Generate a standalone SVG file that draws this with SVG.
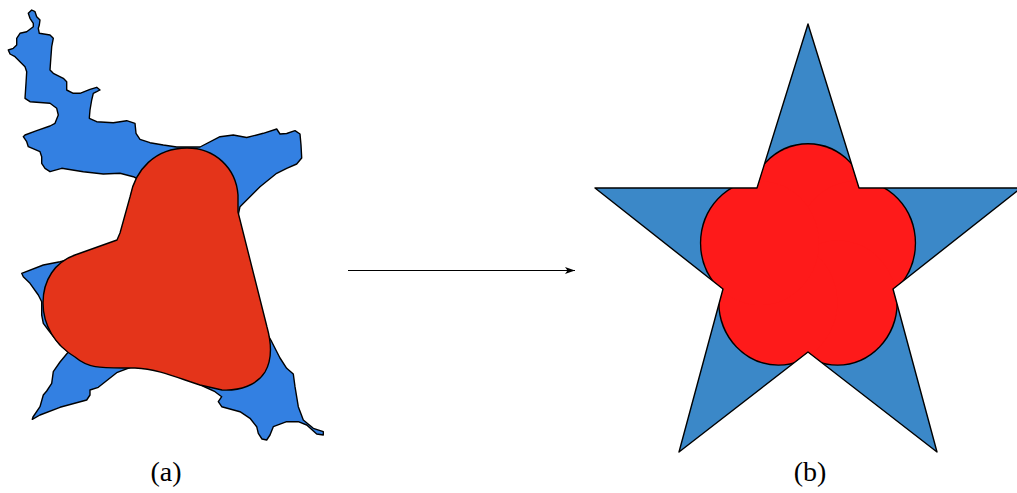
<svg xmlns="http://www.w3.org/2000/svg" width="1017" height="493" viewBox="0 0 1017 493">
<style>
.outline{stroke:#000;stroke-width:1.4;stroke-linejoin:round}
.blueA{fill:#3380e2}
.redA{fill:#e4341a}
.star{fill:#3b88c8}
.lbl{font-family:"Liberation Serif","DejaVu Serif",serif;font-size:28px;fill:#000;text-anchor:middle}
</style>
<defs>
<marker id="ah" markerWidth="11" markerHeight="7" refX="10" refY="3.5" orient="auto" markerUnits="userSpaceOnUse">
<path d="M0,0 L10,3.5 L0,7 L2.5,3.5 Z" fill="#000"/>
</marker>
<clipPath id="starClip">
<polygon points="808,24 859,188 1021,188 893,289 937,452 808,352 679,452 723,289 595,188 757,188"/>
</clipPath>
<g id="lobes">
<circle cx="0" cy="-53" r="62"/>
<circle cx="50.41" cy="-16.38" r="62"/>
<circle cx="31.15" cy="42.88" r="62"/>
<circle cx="-31.15" cy="42.88" r="62"/>
<circle cx="-50.41" cy="-16.38" r="62"/>
</g>
</defs>
<g id="fig-a">
<path class="blueA outline" d="M28.3,13.3 L31.7,10 L35,11.7 L36.7,16.7 L40,20 L39.3,25 L38.3,28.3 L39.3,33.3 L50,35 L53.3,38.3 L51.7,46.7 L50.7,60 L50,70 L53.3,73.3 L63.3,78.3 L66.7,81.7 L66.7,90 L73.3,93.3 L80,93.3 L90,89.3 L96.7,87.3 L100,90 L96.7,91.7 L93.3,93.3 L91.7,100 L90,110 L89.3,118.3 L96.7,121.7 L113.3,122.7 L126.7,120.7 L135,123.3 L136,133.3 L140,139.3 L150,142.7 L163.3,145 L176.7,147 L200,147 L220,136.7 L233.3,135 L246.7,137.5 L263.3,133.3 L276.7,129 L280,134 L286.7,133.5 L295,130.7 L300,134 L301,145 L301.7,158 L296.7,164 L286.7,168.3 L276.7,173.3 L260,186.7 L240,206.7 L235,230 L265,330 L271.7,341.7 L280,358 L286.7,368.3 L293.3,374 L295,386.7 L298.3,406.7 L303.3,420 L313.3,428.3 L323.3,431.7 L323.3,435 L316.7,434 L306.7,425 L298.3,421.7 L286.7,421.7 L273.3,426.7 L270,435 L266.7,440 L262,439 L258.3,433.3 L256.7,426.7 L250,418.3 L240,411.7 L221.7,406.7 L218.3,401.7 L221.7,396.7 L215,391.7 L205,387 L150,360 L116.7,372.7 L98.3,387.3 L90,390 L90,395 L86.7,400 L60,407.3 L40,415 L32.3,419.3 L33,417 L40,406.7 L43.3,395 L46.7,391 L51.7,383.3 L53.3,371.7 L60,362 L68.3,352 L60,345 L48.3,330 L43.3,323.3 L41.7,315 L41.7,301.7 L38.3,295 L30,283.3 L23.3,276.7 L21.7,273.3 L43.3,265 L60,261.7 L76,258 L118,246 L150,222 L152,186 L136,178 L133.3,176.7 L120,173.3 L103.3,174 L83.3,171.7 L61.7,168.3 L50,171.7 L45,168.3 L41.7,163.3 L41.7,156.7 L40,151.7 L28.3,146.7 L26.7,141.7 L23.3,136.7 L25,135 L36.7,130.7 L50,126 L55,123.3 L58.3,115 L56.7,108.3 L50,103.3 L30,101.7 L25,98.3 L26,83.3 L26.7,71.7 L25,66.7 L20,61.7 L15,56.7 L10,54 L8.3,50 L13.3,48.3 L16.7,45 L16.7,38.3 L20,33.3 L26.7,31.7 L33.3,26.7 L33.3,23.3 L30,18.3 Z"/>
<path class="redA outline" d="M120,233 L130,197 C135,170 155,148 187,148 C215,148 236,168 238,195 L238,212 L267,327 C272,345 272,360 265,372 C257,385 240,391 222,390 L200,385 C180,379 160,369 135,368 L123,368 C100,368 88,368 75,357 C55,345 43,325 43,303 C43,280 55,262 75,255 L117,240 Z"/>
</g>
<g id="fig-b">
<polygon class="star" points="808,24 859,188 1021,188 893,289 937,452 808,352 679,452 723,289 595,188 757,188"/>
<g clip-path="url(#starClip)">
<g transform="translate(808,259.5) scale(0.95,1)">
<use href="#lobes" fill="#000" stroke="#000" stroke-width="2.8"/>
<use href="#lobes" fill="#fe1a1a"/>
</g>
</g>
<polygon class="outline" fill="none" points="808,24 859,188 1021,188 893,289 937,452 808,352 679,452 723,289 595,188 757,188"/>
</g>
<g id="connectors">
<line x1="348" y1="270.5" x2="575" y2="270.5" stroke="#000" stroke-width="1.2" marker-end="url(#ah)"/>
</g>
<g id="label-a"><text class="lbl" x="166" y="481">(a)</text></g>
<g id="label-b"><text class="lbl" x="810" y="481">(b)</text></g>
</svg>
